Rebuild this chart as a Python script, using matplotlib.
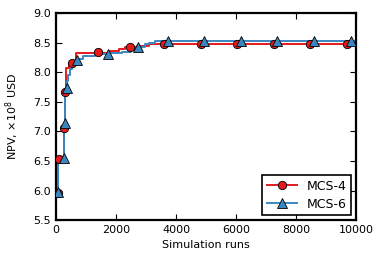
import matplotlib
matplotlib.use("Agg")
import matplotlib.pyplot as plt
from matplotlib.lines import Line2D

# MCS-4 best-so-far NPV (step breakpoints)
runs4 = [50, 80, 275, 290, 320, 420, 650, 1800, 2100, 2300, 2700, 3100, 10000]
npv4 = [6.00, 6.55, 7.05, 7.65, 8.08, 8.15, 8.33, 8.36, 8.39, 8.42, 8.45, 8.47, 8.47]
# MCS-4 marker positions
mk4_x = [60, 95, 280, 290, 520, 1410, 2470, 3600, 4820, 6040, 7260, 8470, 9690]
mk4_y = [5.96, 6.54, 7.06, 7.66, 8.15, 8.35, 8.42, 8.47, 8.47, 8.47, 8.47, 8.47, 8.47]

# MCS-6 best-so-far NPV (step breakpoints)
runs6 = [50, 70, 280, 300, 330, 370, 410, 460, 530, 600, 700, 900, 1300, 1800, 2200,
         2500, 2800, 2950, 3100, 3300, 10000]
npv6 = [6.00, 6.55, 7.15, 7.60, 7.75, 7.85, 7.95, 8.05, 8.12, 8.18, 8.22, 8.27, 8.30,
        8.32, 8.35, 8.38, 8.42, 8.47, 8.50, 8.53, 8.53]
# MCS-6 marker positions
mk6_x = [60, 250, 300, 357, 690, 1740, 2730, 3720, 4940, 6170, 7380, 8600, 9820]
mk6_y = [5.98, 6.55, 7.15, 7.74, 8.20, 8.30, 8.42, 8.53, 8.53, 8.53, 8.53, 8.53, 8.53]

red = "#e41a1c"
blue = "#3a87c0"

fig = plt.figure(figsize=(3.74, 2.62), dpi=100)
ax = fig.add_axes([0.150, 0.160, 0.802, 0.790])

ax.step(runs4, npv4, where="post", color=red, lw=1.4, zorder=2)
ax.plot(mk4_x, mk4_y, ls="none", marker="o", ms=6, mfc=red, mec="black", mew=0.6, zorder=3)
ax.step(runs6, npv6, where="post", color=blue, lw=1.4, zorder=2)
ax.plot(mk6_x, mk6_y, ls="none", marker="^", ms=6.5, mfc=blue, mec="black", mew=0.6, zorder=3)

ax.set_xlim(0, 10000)
ax.set_ylim(5.5, 9.0)
ax.set_xticks([0, 2000, 4000, 6000, 8000, 10000])
ax.set_yticks([5.5, 6.0, 6.5, 7.0, 7.5, 8.0, 8.5, 9.0])
ax.tick_params(direction="in", top=True, right=True, labelsize=8, length=4, width=0.8)
for s in ax.spines.values():
    s.set_linewidth(1.6)
ax.set_xlabel("Simulation runs", fontsize=8)
ax.set_ylabel(r"NPV, $\times 10^8$ USD", fontsize=8, labelpad=9)

handles = [
    Line2D([], [], color=red, lw=1.4, marker="o", ms=6, mfc=red, mec="black", mew=0.6),
    Line2D([], [], color=blue, lw=1.4, marker="^", ms=6.5, mfc=blue, mec="black", mew=0.6),
]
leg = ax.legend(handles, ["MCS-4", "MCS-6"], loc="lower right", fontsize=9,
                fancybox=False, edgecolor="black", framealpha=1, numpoints=1,
                borderaxespad=0.4, handlelength=2.4, labelspacing=0.4, borderpad=0.35)
leg.get_frame().set_linewidth(1.2)

fig.savefig("out.png", dpi=100)
